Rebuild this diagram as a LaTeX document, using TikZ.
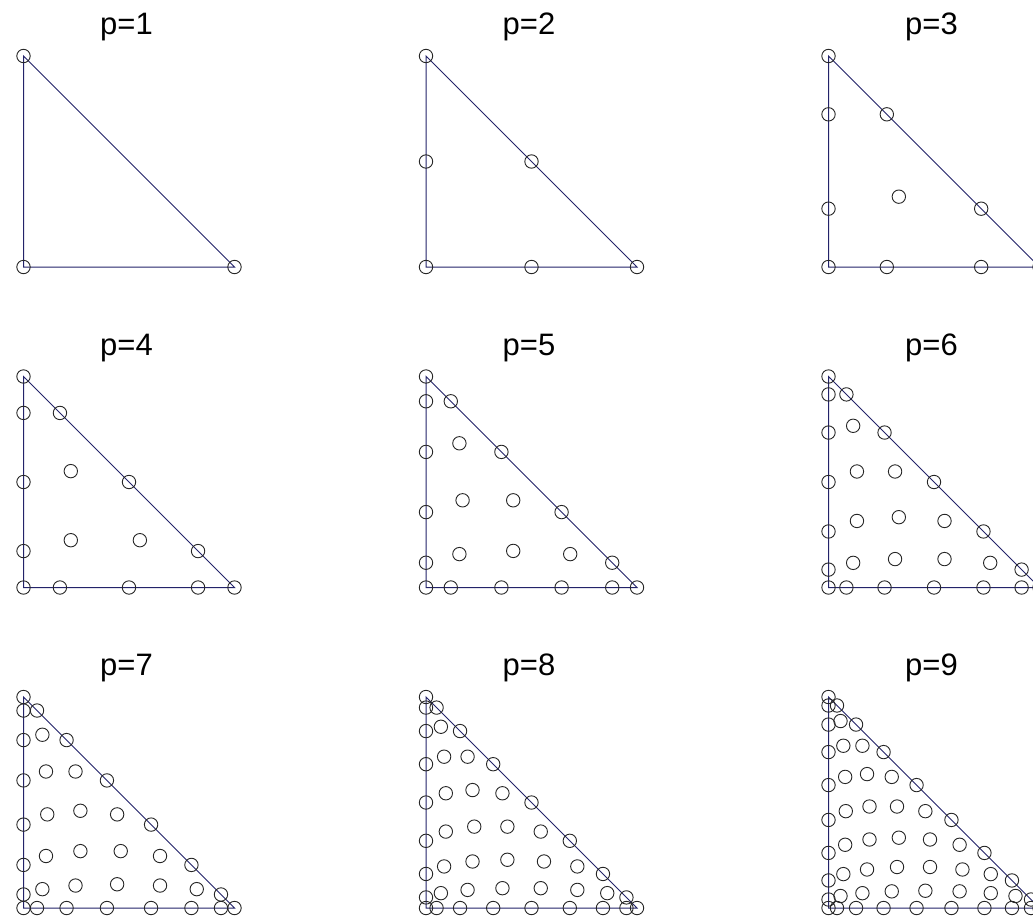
\documentclass[tikz,border=0pt]{standalone}
\usepackage{fontspec}
\setmainfont{Liberation Sans}
\definecolor{edgeblue}{RGB}{35,35,105}
\tikzset{
  edge/.style={draw=edgeblue, line width=1pt},
  dot/.style={draw=black!85, line width=0.9pt},
  title/.style={font=\fontsize{31}{36}\selectfont, anchor=base}
}
\begin{document}
\begin{tikzpicture}
  \useasboundingbox[fill=white] (0pt,0pt) rectangle (1033pt,-916pt);
  % one panel per order p: Gauss-Lobatto points on [0,1] along each edge
  \foreach \p/\col/\row/\gll in {
      1/0/0/{0,1},
      2/1/0/{0,0.5,1},
      3/2/0/{0,0.2763932,0.7236068,1},
      4/0/1/{0,0.1726732,0.5,0.8273268,1},
      5/1/1/{0,0.1174724,0.3573842,0.6426158,0.8825276,1},
      6/2/1/{0,0.0848880,0.2655756,0.5,0.7344244,0.9151120,1},
      7/0/2/{0,0.0641299,0.2041499,0.3953504,0.6046496,0.7958501,0.9358701,1},
      8/1/2/{0,0.0501210,0.1614069,0.3184412,0.5,0.6815588,0.8385931,0.9498790,1},
      9/2/2/{0,0.0402330,0.1306130,0.2610375,0.4173605,0.5826395,0.7389625,0.8693870,0.9597670,1}}{
    \pgfmathsetmacro\ox{23.5+402.5*\col}
    \pgfmathsetmacro\oy{267+320.5*\row}
    \begin{scope}[shift={(\ox pt,-\oy pt)}, x=211pt, y=211pt]
      \node[title] (lab\p) at (0.488,1.1) {p=\p};
      \coordinate (a\p) at (0,0);
      \coordinate (b\p) at (1,0);
      \coordinate (c\p) at (0,1);
      \draw[edge] (a\p) -- (b\p) -- (c\p) -- cycle;
      \foreach \i in {0,...,\p}{
        \pgfmathtruncatemacro\jmax{\p-\i}
        \foreach \j in {0,...,\jmax}{
          \pgfmathtruncatemacro\kk{\p-\i-\j}
          \pgfmathsetmacro\vi{{\gll}[\i]}
          \pgfmathsetmacro\vj{{\gll}[\j]}
          \pgfmathsetmacro\vk{{\gll}[\kk]}
          \pgfmathsetmacro\px{(1+2*\vi-\vj-\vk)/3}
          \pgfmathsetmacro\py{(1+2*\vj-\vi-\vk)/3}
          \draw[dot] (\px,\py) circle[radius=6.7pt];
        }
      }
    \end{scope}
  }
\end{tikzpicture}
\end{document}
